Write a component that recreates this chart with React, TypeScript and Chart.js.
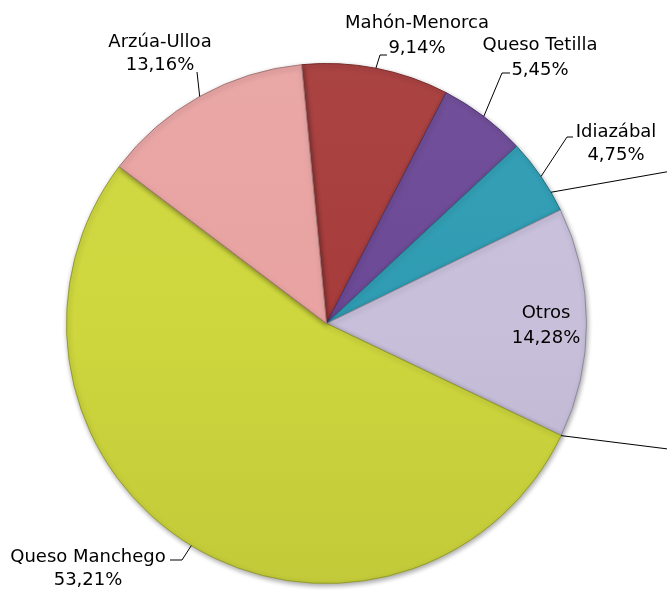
import React, { useEffect, useRef } from "react";
import { Chart, registerables } from "chart.js";
Chart.register(...registerables);

const categories = ["Mahón-Menorca", "Queso Tetilla", "Idiazábal", "Otros", "Queso Manchego", "Arzúa-Ulloa"];
const values = [9.14, 5.45, 4.75, 14.28, 53.21, 13.16];
const valueLabels = ["9,14%", "5,45%", "4,75%", "14,28%", "53,21%", "13,16%"];
const colors = ["#a63c3b", "#6c4996", "#2f9cb3", "#c8c0db", "#ced73d", "#e8a3a2"];

// label layout (styling): text centre x, baselines, leader path after the rim point
const labelLayout = [
  { x: 417, y1: 28, y2: 53, leader: [[380, 55], [387, 55]] },
  { x: 540, y1: 50, y2: 75, leader: [[502, 73], [510, 73]] },
  { x: 616, y1: 137, y2: 160, leader: [[567, 137], [573, 137]] },
  { x: 546, y1: 318, y2: 343, leader: null },
  { x: 88, y1: 562, y2: 585, leader: [[182, 560], [170, 560]] },
  { x: 160, y1: 47, y2: 70, leader: [[197, 72]] },
];
// extra leader lines that lead off the picture
const extraLines = [
  { index: 2, frac: 0.74, to: [700, 166] },
  { index: 3, frac: 1.0, to: [700, 453] },
];

function shade(hex: string, f: number) {
  const n = parseInt(hex.slice(1), 16);
  let r = (n >> 16) & 255, g = (n >> 8) & 255, b = n & 255;
  if (f >= 1) {
    r = Math.round(r + (255 - r) * (f - 1));
    g = Math.round(g + (255 - g) * (f - 1));
    b = Math.round(b + (255 - b) * (f - 1));
  } else {
    r = Math.round(r * f); g = Math.round(g * f); b = Math.round(b * f);
  }
  return `rgb(${r},${g},${b})`;
}

const FONT = "18px 'DejaVu Sans', sans-serif";

const shadowPlugin = {
  id: "shadow",
  beforeDatasetDraw(chart: any) {
    const ctx = chart.ctx;
    ctx.save();
    ctx.shadowColor = "rgba(0,0,0,0.35)";
    ctx.shadowBlur = 5;
    ctx.shadowOffsetX = 1;
    ctx.shadowOffsetY = 2;
  },
  afterDatasetDraw(chart: any) {
    chart.ctx.restore();
  },
};

const labelPlugin = {
  id: "sliceLabels",
  afterDatasetsDraw(chart: any) {
    const ctx = chart.ctx;
    const meta = chart.getDatasetMeta(0);
    ctx.save();
    ctx.strokeStyle = "#000";
    ctx.lineWidth = 1;
    meta.data.forEach((arc: any, i: number) => {
      const p = arc.getProps(["x", "y", "startAngle", "endAngle", "outerRadius"], true);
      const L = labelLayout[i];
      const mid = (p.startAngle + p.endAngle) / 2;
      if (L.leader) {
        ctx.beginPath();
        ctx.moveTo(p.x + Math.cos(mid) * p.outerRadius, p.y + Math.sin(mid) * p.outerRadius);
        L.leader.forEach(([x, y]: number[]) => ctx.lineTo(x, y));
        ctx.stroke();
      }
      ctx.fillStyle = "#000";
      ctx.font = FONT;
      ctx.textAlign = "center";
      ctx.textBaseline = "alphabetic";
      ctx.fillText(categories[i], L.x, L.y1);
      ctx.fillText(valueLabels[i], L.x, L.y2);
    });
    extraLines.forEach((e) => {
      const arc = meta.data[e.index];
      const p = arc.getProps(["x", "y", "startAngle", "endAngle", "outerRadius"], true);
      const a = p.startAngle + (p.endAngle - p.startAngle) * e.frac;
      ctx.beginPath();
      ctx.moveTo(p.x + Math.cos(a) * p.outerRadius, p.y + Math.sin(a) * p.outerRadius);
      ctx.lineTo(e.to[0], e.to[1]);
      ctx.stroke();
    });
    ctx.restore();
  },
};

export default function App() {
  const ref = useRef<HTMLCanvasElement>(null);
  useEffect(() => {
    if (!ref.current) return;
    const chart = new Chart(ref.current, {
      type: "pie",
      data: {
        labels: categories,
        datasets: [
          {
            data: values,
            backgroundColor: (c: any) => {
              const base = colors[c.dataIndex];
              const area = c.chart.chartArea;
              if (!area) return base;
              const g = c.chart.ctx.createLinearGradient(0, area.top, 0, area.bottom);
              g.addColorStop(0, shade(base, 1.04));
              g.addColorStop(0.5, base);
              g.addColorStop(1, shade(base, 0.94));
              return g;
            },
            borderColor: colors.map((c) => shade(c, 0.72)),
            borderWidth: 1,
          },
        ],
      },
      options: {
        responsive: false,
        animation: false,
        rotation: -5.5,
        layout: { padding: { left: 66, right: 80, top: 63, bottom: 6 } },
        plugins: { legend: { display: false }, tooltip: { enabled: false } },
      },
      plugins: [shadowPlugin, labelPlugin],
    });
    return () => chart.destroy();
  }, []);
  return (
    <div style={{ position: "absolute", left: 0, top: 0, width: 667, height: 590, background: "#fff" }}>
      <canvas ref={ref} width={667} height={590} />
    </div>
  );
}
